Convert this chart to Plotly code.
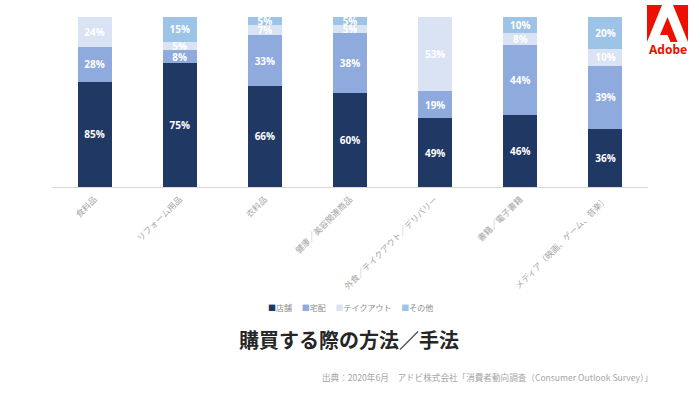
import plotly.graph_objects as go

categories = ["食料品", "リフォーム用品", "衣料品", "健康／美容関連商品",
              "外食／テイクアウト／デリバリー", "書籍／電子書籍", "メディア（映画、ゲーム、音楽）"]
series_names = ["店舗", "宅配", "テイクアウト", "その他"]
store = [85, 75, 66, 60, 49, 46, 36]
delivery = [28, 8, 33, 38, 19, 44, 39]
takeout = [24, 5, 7, 5, 53, 8, 10]
other = [0, 15, 5, 5, 0, 10, 20]
series_values = [store, delivery, takeout, other]
colors = ["#203864", "#8faadc", "#dae3f3", "#9dc3e6"]

title_text = "購買する際の方法／手法"
source_text = "出典：2020年6月　アドビ株式会社「消費者動向調査（Consumer Outlook Survey）」"

W, H = 700, 393
ML, MR, MT, MB = 52, 52, 17, 206
PW, PH = W - ML - MR, H - MT - MB


def px(x):
    return (x - ML) / PW


def py(y):
    return (H - MB - y) / PH


JP = "Noto Sans CJK JP"

fig = go.Figure()
for name, vals, col in zip(series_names, series_values, colors):
    fig.add_trace(go.Bar(
        x=categories, y=vals, name=name, marker=dict(color=col, line=dict(width=0)),
        text=[f"{v}%" if v > 0 else "" for v in vals],
        textposition="inside", insidetextanchor="middle",
        textfont=dict(color="white", size=10, family="Open Sans", weight="bold"),
        showlegend=False, hoverinfo="skip",
    ))

legend_parts = []
for name, col in zip(series_names, colors):
    legend_parts.append(f"<span style='color:{col}'>■</span><span style='color:#8c8c8c'>{name}</span>")
legend_html = "　 ".join(legend_parts)

annotations = [
    dict(text=legend_html, x=px(350), y=py(307), xref="paper", yref="paper",
         showarrow=False, xanchor="center", yanchor="middle",
         font=dict(size=8, family=JP, color="#8c8c8c")),
    dict(text=title_text, x=px(349), y=py(339), xref="paper", yref="paper",
         showarrow=False, xanchor="center", yanchor="middle",
         font=dict(size=20, family=JP, color="#262626", weight="bold")),
    dict(text=source_text, x=px(655), y=py(377), xref="paper", yref="paper",
         showarrow=False, xanchor="right", yanchor="middle",
         font=dict(size=8.6, family=JP, color="#a6a6a6")),
    dict(text="Adobe", x=px(667.5), y=py(49), xref="paper", yref="paper",
         showarrow=False, xanchor="center", yanchor="middle",
         font=dict(size=12, family="Noto Sans", color="#EB1000", weight="bold")),
]


def path(pts):
    return "M " + " L ".join(f"{px(a):.5f},{py(b):.5f}" for a, b in pts) + " Z"


red = "#EB1000"
logo_pieces = [
    [(647, 5), (662, 5), (647, 42)],
    [(673, 5), (688, 5), (688, 42)],
    [(667.5, 17), (677.5, 42), (670.5, 42), (667.5, 35), (660, 35)],
]
shapes = [dict(type="path", path=path(p), xref="paper", yref="paper",
               fillcolor=red, line=dict(width=0)) for p in logo_pieces]

fig.update_layout(
    width=W, height=H,
    margin=dict(l=ML, r=MR, t=MT, b=MB, autoexpand=False),
    barmode="stack", barnorm="percent", bargap=0.6,
    plot_bgcolor="white", paper_bgcolor="white",
    uniformtext=dict(minsize=10, mode="show"),
    annotations=annotations, shapes=shapes,
    xaxis=dict(showline=True, linecolor="#d9d9d9", linewidth=1, ticks="",
               tickangle=-45, tickfont=dict(size=8.5, family=JP, color="#a6a6a6"),
               ticklabelstandoff=3, fixedrange=True),
    yaxis=dict(visible=False, range=[0, 100], showgrid=False, fixedrange=True),
)

fig.write_html("out.html", config={"displayModeBar": False},
               post_script="document.body.style.margin='0';document.body.style.overflow='hidden';")
